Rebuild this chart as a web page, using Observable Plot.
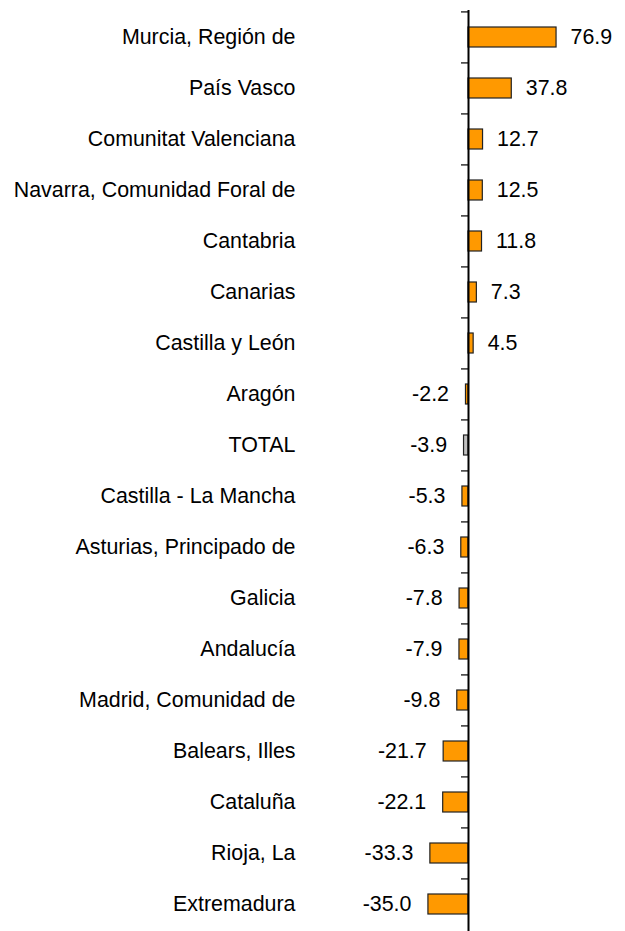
<!DOCTYPE html>
<html>
<head>
<meta charset="utf-8">
<script src="https://cdn.jsdelivr.net/npm/d3@7"></script>
<script src="https://cdn.jsdelivr.net/npm/@observablehq/plot@0.6"></script>
<style>
  html, body { margin: 0; padding: 0; background: #fff; }
  #chart svg { display: block; }
</style>
</head>
<body>
<div id="chart"></div>
<script>
const regions = [
  "Murcia, Región de",
  "País Vasco",
  "Comunitat Valenciana",
  "Navarra, Comunidad Foral de",
  "Cantabria",
  "Canarias",
  "Castilla y León",
  "Aragón",
  "TOTAL",
  "Castilla - La Mancha",
  "Asturias, Principado de",
  "Galicia",
  "Andalucía",
  "Madrid, Comunidad de",
  "Balears, Illes",
  "Cataluña",
  "Rioja, La",
  "Extremadura"
];
const values = [76.9, 37.8, 12.7, 12.5, 11.8, 7.3, 4.5, -2.2, -3.9, -5.3, -6.3, -7.8, -7.9, -9.8, -21.7, -22.1, -33.3, -35.0];
const totalLabel = "TOTAL";

const data = regions.map((r, i) => ({region: r, value: values[i]}));

const W = 625, H = 931;
const zeroX = 468;
const pxPerUnit = 1.145;
const topMargin = 10;
const step = (H - topMargin) / regions.length;
const tickLen = 7;
const fs = 21.4;

const orange = "#FF9900";
const grey = "#C0C0C0";
const font = "'Liberation Sans', Arial, sans-serif";

const chart = Plot.plot({
  width: W,
  height: H,
  marginTop: topMargin,
  marginBottom: 0,
  marginLeft: 300,
  marginRight: 0,
  style: {fontFamily: font, fontSize: fs + "px", color: "#000", background: "#fff"},
  x: {domain: [0, 100], range: [zeroX, zeroX + 100 * pxPerUnit], axis: null},
  y: {domain: regions, paddingInner: 0.6, paddingOuter: 0.3, label: null},
  marks: [
    Plot.axisY({tickSize: 0, tickPadding: 5, fontSize: fs, label: null, fill: "#000"}),
    Plot.barX(data, {
      x: "value",
      y: "region",
      fill: d => d.region === totalLabel ? grey : orange,
      stroke: "#222",
      strokeWidth: 1.2
    }),
    Plot.ruleY(regions, {
      y: d => d,
      x1: -tickLen / pxPerUnit,
      x2: 0,
      dy: -step / 2,
      stroke: "#000",
      strokeWidth: 1.2
    }),
    Plot.ruleX([0], {stroke: "#000", strokeWidth: 2}),
    Plot.text(data, {
      x: "value",
      y: "region",
      text: d => d.value.toFixed(1),
      textAnchor: "start",
      fontSize: fs,
      fill: "#000",
      filter: d => d.value >= 0,
      dx: 14
    }),
    Plot.text(data, {
      x: "value",
      y: "region",
      text: d => d.value.toFixed(1),
      textAnchor: "end",
      fontSize: fs,
      fill: "#000",
      filter: d => d.value < 0,
      dx: -17
    })
  ]
});

document.getElementById("chart").appendChild(chart);
</script>
</body>
</html>
